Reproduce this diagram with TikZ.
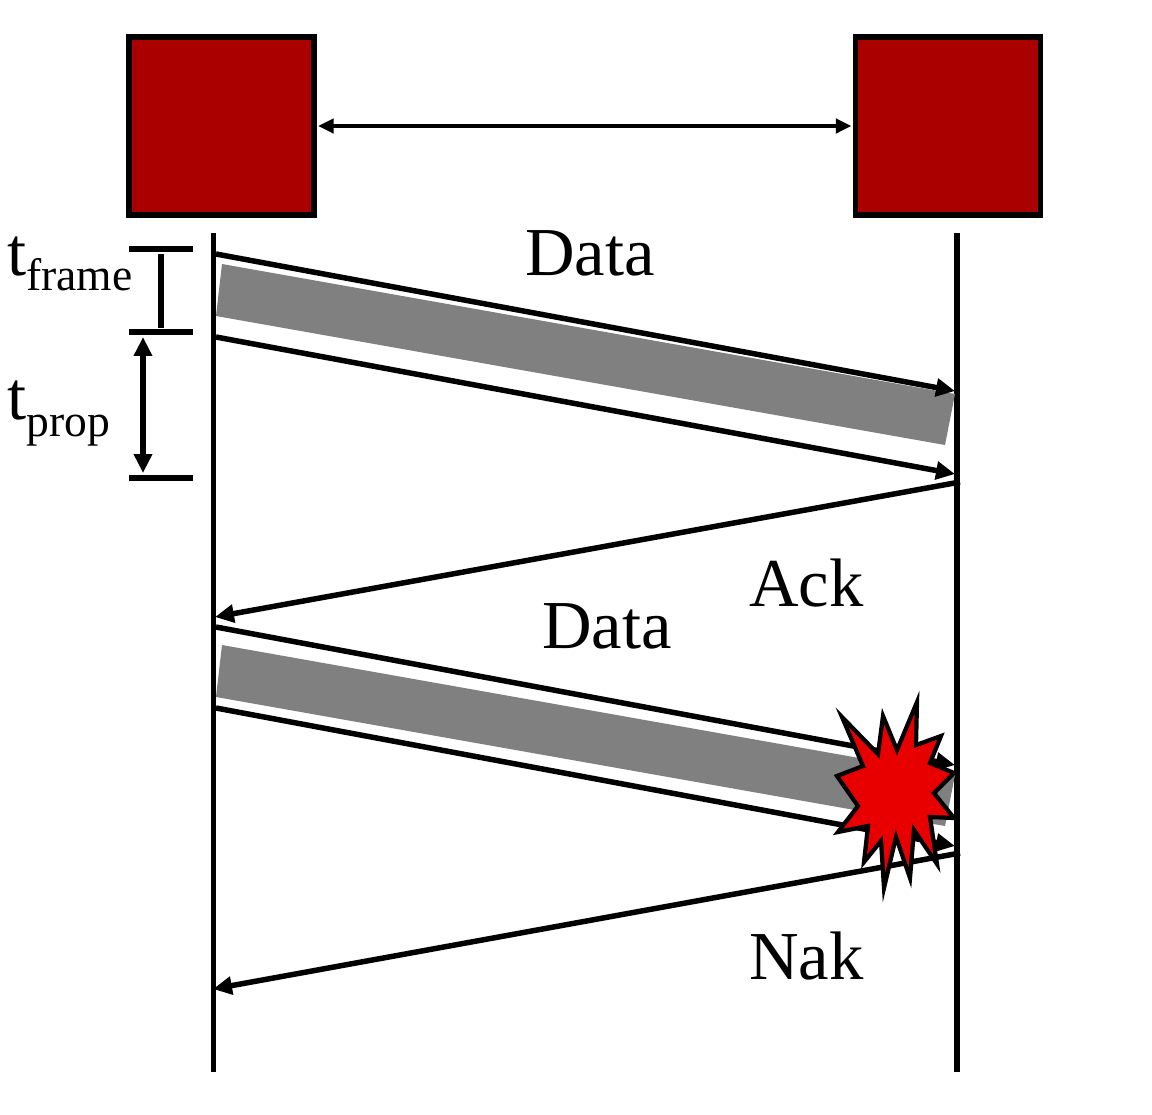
\documentclass[tikz,border=0pt]{standalone}
\usepackage{fontspec}
\setmainfont{Liberation Serif}
\usetikzlibrary{arrows.meta}

\definecolor{stationred}{HTML}{AA0000}
\definecolor{burstred}{HTML}{E80000}
\definecolor{framegray}{HTML}{808080}

\begin{document}
\begin{tikzpicture}[
    x=0.025cm, y=-0.025cm,
    >={Triangle[length=13.5pt, width=12.5pt]},
    station/.style={draw, line width=3.9pt, fill=stationred, minimum width=4.62cm, minimum height=4.44cm, inner sep=0pt},
    timeline/.style={line width=3.9pt},
    msgarrow/.style={->, line width=3.9pt},
    tick/.style={line width=3.9pt},
    lbl/.style={font=\fontsize{48.8}{50}\selectfont, inner sep=0pt},
    burst/.style={draw, fill=burstred, line width=3pt, line join=miter, miter limit=10}
]

\useasboundingbox (0,0) rectangle (1152,1114);

% Stations
\node[station] (left_st) at (221.5,126) {};
\node[station] (right_st) at (948,126) {};
\draw[<->, >={Triangle[length=11pt, width=10pt]}, line width=2.9pt] ([xshift=1pt]left_st.east) -- ([xshift=-1pt]right_st.west);

% Time lines
\coordinate (left_top) at (213.5,233);
\coordinate (left_bot) at (213.5,1072);
\coordinate (right_top) at (957,233);
\coordinate (right_bot) at (957,1072);
\draw[timeline] (left_top) -- (left_bot);
\draw[timeline] (right_top) -- (right_bot);

% Frames
\fill[framegray] (222,264) -- (955,394) -- (945,445) -- (216,316) -- cycle;
\fill[framegray] (222,645) -- (955,775) -- (945,826) -- (216,697) -- cycle;

% First exchange
\coordinate (d1a_s) at (216,254);
\coordinate (d1a_e) at (955,391);
\coordinate (d1b_s) at (216,337);
\coordinate (d1b_e) at (955,474);
\coordinate (ack_s) at (960,482);
\coordinate (ack_e) at (215,617);
\draw[msgarrow] (d1a_s) -- (d1a_e);
\draw[msgarrow] (d1b_s) -- (d1b_e);
\draw[msgarrow] (ack_s) -- (ack_e);

% Second exchange
\coordinate (d2a_s) at (216,627);
\coordinate (d2a_e) at (955,765);
\coordinate (d2b_s) at (216,708);
\coordinate (d2b_e) at (955,846);
\coordinate (nak_s) at (960,853);
\coordinate (nak_e) at (213,989);
\draw[msgarrow] (d2a_s) -- (d2a_e);
\draw[msgarrow] (d2b_s) -- (d2b_e);
\draw[msgarrow] (nak_s) -- (nak_e);

% Error burst
\draw[burst] (917,702) -- (916,745) -- (941,736) -- (930,763) -- (954,773) -- (934,793) -- (954,818) -- (930,817) -- (937,864) -- (914,830) -- (910,878) -- (896,837) -- (884,888) -- (881,841) -- (864,862) -- (868,826) -- (838,832) -- (858,806) -- (837,776) -- (863,766) -- (842,717) -- (878,754) -- (883,716) -- (897,750) -- cycle;

% Time marks
\coordinate (mark1_l) at (129,249);
\coordinate (mark1_r) at (193,249);
\coordinate (mark2_l) at (129,332);
\coordinate (mark2_r) at (193,332);
\coordinate (mark3_l) at (129,478);
\coordinate (mark3_r) at (193,478);
\draw[tick] (mark1_l) -- (mark1_r);
\draw[tick] (mark2_l) -- (mark2_r);
\draw[tick] (mark3_l) -- (mark3_r);
\coordinate (frame_top) at (161,254);
\coordinate (frame_bot) at (161,328);
\coordinate (prop_top) at (143,337);
\coordinate (prop_bot) at (143,473);
\draw[tick] (frame_top) -- (frame_bot);
\draw[<->, line width=3.9pt] (prop_top) -- (prop_bot);

% Labels
\node[lbl, anchor=base west] (t_frame) at (7,275) {t\raisebox{-0.375cm}{\fontsize{32.4}{34}\selectfont frame}};
\node[lbl, anchor=base west] (t_prop) at (7,419) {t\raisebox{-0.43cm}{\fontsize{32.4}{34}\selectfont prop}};
\node[lbl, anchor=base] (data1) at (590,275) {Data};
\node[lbl, anchor=base] (data2) at (607,648) {Data};
\node[lbl, anchor=base] (ack) at (806.5,606) {Ack};
\node[lbl, anchor=base] (nak) at (806.5,979) {Nak};

\end{tikzpicture}
\end{document}
